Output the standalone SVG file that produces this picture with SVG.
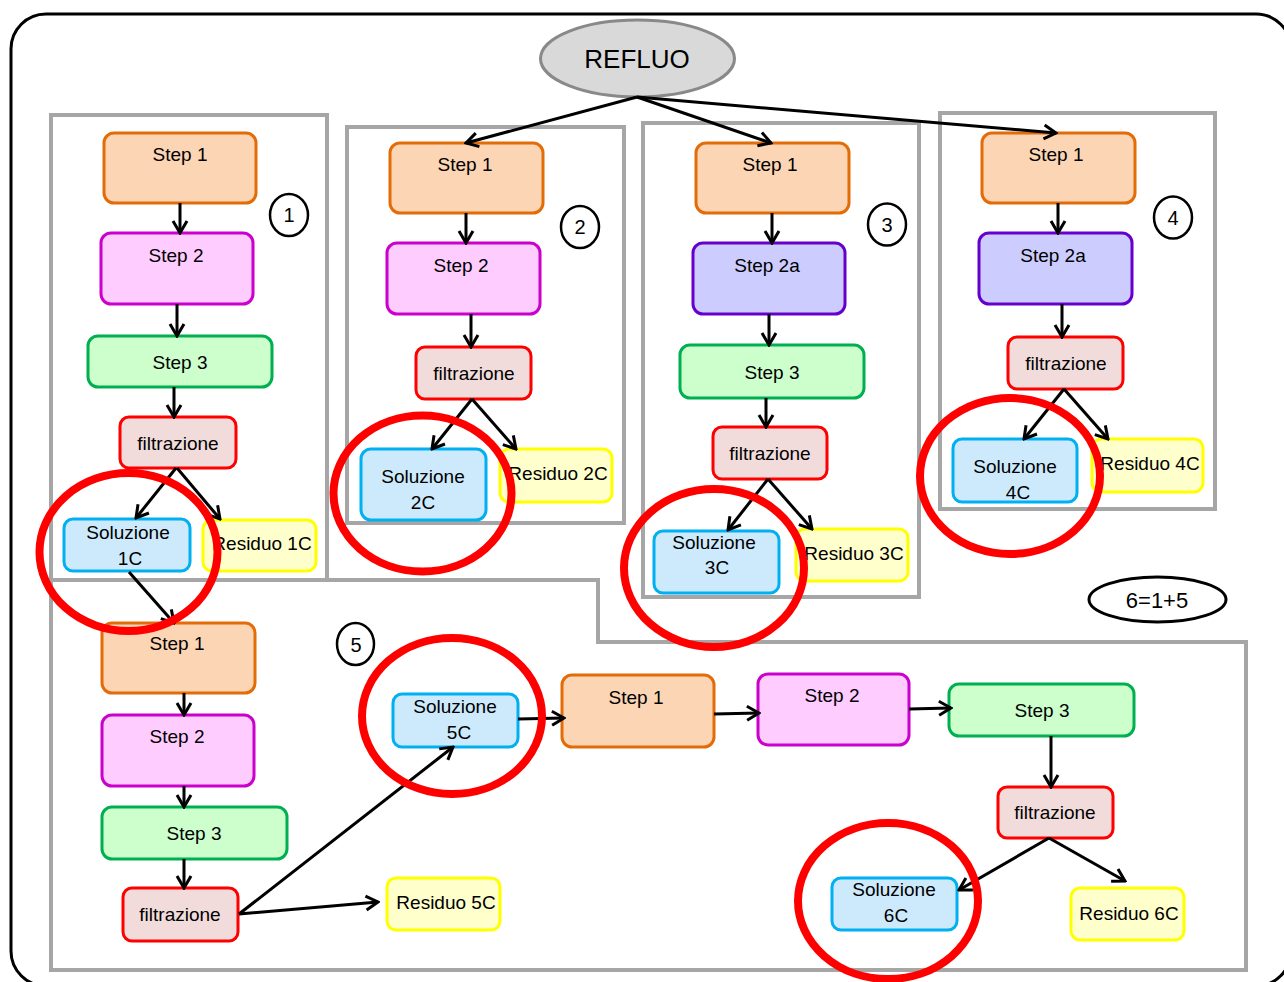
<svg xmlns="http://www.w3.org/2000/svg" width="1284" height="982" viewBox="0 0 1284 982">
<style>
text{font-family:"Liberation Sans",Arial,sans-serif;font-size:19px;fill:#000;text-anchor:middle;dominant-baseline:central}
.panel{fill:none;stroke:#a6a6a6;stroke-width:4}
.n rect{stroke-width:3}
.o rect{fill:#fcd5b4;stroke:#e36c09}
.p rect{fill:#ffccff;stroke:#cc00cc}
.v rect{fill:#ccccff;stroke:#6600cc}
.g rect{fill:#ccffcc;stroke:#00b050}
.f rect{fill:#f2dcdb;stroke:#ff0000}
.s rect{fill:#cdeafc;stroke:#00b0f0}
.r rect{fill:#ffffcc;stroke:#ffff00}
.num ellipse{fill:none;stroke:#000;stroke-width:2.5}
.num text{font-size:20px}
.ring{fill:none;stroke:#ff0000;stroke-width:8}
#connectors line{stroke:#000;stroke-width:3;marker-end:url(#ah)}
</style>
<defs>
<marker id="ah" markerUnits="userSpaceOnUse" viewBox="-14 -9 16 18" markerWidth="16" markerHeight="18" refX="0" refY="0" orient="auto">
<path d="M-12,-7 L0,0 L-12,7" fill="none" stroke="#000" stroke-width="3"/>
</marker>
</defs>
<rect x="11" y="14" width="1280" height="972" rx="35" fill="#fff" stroke="#000" stroke-width="3"/>
<g id="panels">
<rect class="panel" x="51" y="115" width="276" height="465"/>
<rect class="panel" x="347" y="127" width="277" height="396"/>
<rect class="panel" x="643" y="123" width="276" height="474"/>
<rect class="panel" x="940" y="113" width="275" height="396"/>
<path class="panel" d="M51,580 L598,580 L598,642 L1246,642 L1246,970 L51,970 Z"/>
</g>
<g id="refluo"><ellipse cx="637.5" cy="58.5" rx="97" ry="38.5" fill="#d9d9d9" stroke="#898989" stroke-width="3"/><text x="637" y="59" style="font-size:26px">REFLUO</text></g>
<!-- panel 1 -->
<g id="p1s1" class="n o"><rect x="104" y="133" width="152" height="70" rx="10"/><text x="180" y="154">Step 1</text></g>
<g id="p1s2" class="n p"><rect x="101" y="233" width="152" height="71" rx="10"/><text x="176" y="255">Step 2</text></g>
<g id="p1s3" class="n g"><rect x="88" y="336" width="184" height="51" rx="10"/><text x="180" y="362">Step 3</text></g>
<g id="p1f" class="n f"><rect x="120" y="417" width="116" height="51" rx="9"/><text x="178" y="443">filtrazione</text></g>
<g id="p1sol" class="n s"><rect x="64" y="519" width="126" height="52" rx="9"/><text x="128" y="532">Soluzione</text><text x="130" y="558">1C</text></g>
<g id="p1res" class="n r"><rect x="203" y="520" width="113" height="51" rx="9"/><text x="262" y="543">Residuo 1C</text></g>
<g id="num1" class="num"><ellipse cx="289" cy="215" rx="19" ry="21"/><text x="289" y="215">1</text></g>
<!-- panel 2 -->
<g id="p2s1" class="n o"><rect x="390" y="143" width="153" height="70" rx="10"/><text x="465" y="164">Step 1</text></g>
<g id="p2s2" class="n p"><rect x="387" y="243" width="153" height="71" rx="10"/><text x="461" y="265">Step 2</text></g>
<g id="p2f" class="n f"><rect x="416" y="347" width="115" height="52" rx="9"/><text x="474" y="373">filtrazione</text></g>
<g id="p2sol" class="n s"><rect x="361" y="449" width="125" height="71" rx="10"/><text x="423" y="476">Soluzione</text><text x="423" y="502">2C</text></g>
<g id="p2res" class="n r"><rect x="500" y="449" width="112" height="53" rx="9"/><text x="558" y="473">Residuo 2C</text></g>
<g id="num2" class="num"><ellipse cx="580" cy="227" rx="19" ry="21"/><text x="580" y="227">2</text></g>
<!-- panel 3 -->
<g id="p3s1" class="n o"><rect x="696" y="143" width="153" height="70" rx="10"/><text x="770" y="164">Step 1</text></g>
<g id="p3s2a" class="n v"><rect x="693" y="243" width="152" height="71" rx="10"/><text x="767" y="265">Step 2a</text></g>
<g id="p3s3" class="n g"><rect x="680" y="345" width="184" height="53" rx="10"/><text x="772" y="372">Step 3</text></g>
<g id="p3f" class="n f"><rect x="713" y="427" width="114" height="52" rx="9"/><text x="770" y="453">filtrazione</text></g>
<g id="p3sol" class="n s"><rect x="654" y="531" width="125" height="62" rx="9"/><text x="714" y="542">Soluzione</text><text x="717" y="567">3C</text></g>
<g id="p3res" class="n r"><rect x="796" y="529" width="112" height="52" rx="9"/><text x="854" y="553">Residuo 3C</text></g>
<g id="num3" class="num"><ellipse cx="887" cy="224.5" rx="19" ry="21"/><text x="887" y="225">3</text></g>
<!-- panel 4 -->
<g id="p4s1" class="n o"><rect x="982" y="133" width="153" height="70" rx="10"/><text x="1056" y="154">Step 1</text></g>
<g id="p4s2a" class="n v"><rect x="979" y="233" width="153" height="71" rx="10"/><text x="1053" y="255">Step 2a</text></g>
<g id="p4f" class="n f"><rect x="1008" y="337" width="115" height="52" rx="9"/><text x="1066" y="363">filtrazione</text></g>
<g id="p4sol" class="n s"><rect x="953" y="439" width="124" height="63" rx="9"/><text x="1015" y="466">Soluzione</text><text x="1018" y="492">4C</text></g>
<g id="p4res" class="n r"><rect x="1092" y="439" width="111" height="53" rx="9"/><text x="1150" y="463">Residuo 4C</text></g>
<g id="num4" class="num"><ellipse cx="1173" cy="217.5" rx="19" ry="21"/><text x="1173" y="218">4</text></g>
<g id="eq"><ellipse cx="1157.5" cy="599.5" rx="68.5" ry="22.5" fill="none" stroke="#000" stroke-width="3"/><text x="1157" y="600" style="font-size:22px">6=1+5</text></g>
<!-- panel 5 -->
<g id="p5s1" class="n o"><rect x="102" y="623" width="153" height="70" rx="10"/><text x="177" y="643">Step 1</text></g>
<g id="p5s2" class="n p"><rect x="102" y="715" width="152" height="71" rx="10"/><text x="177" y="736">Step 2</text></g>
<g id="p5s3" class="n g"><rect x="102" y="807" width="185" height="52" rx="10"/><text x="194" y="833">Step 3</text></g>
<g id="p5f" class="n f"><rect x="123" y="888" width="115" height="53" rx="9"/><text x="180" y="914">filtrazione</text></g>
<g id="p5sol" class="n s"><rect x="393" y="694" width="125" height="53" rx="9"/><text x="455" y="706">Soluzione</text><text x="459" y="732">5C</text></g>
<g id="p5res" class="n r"><rect x="387" y="878" width="113" height="52" rx="9"/><text x="446" y="902">Residuo 5C</text></g>
<g id="num5" class="num"><ellipse cx="355.5" cy="644" rx="18.5" ry="21"/><text x="356" y="645">5</text></g>
<g id="p6s1" class="n o"><rect x="562" y="675" width="152" height="72" rx="10"/><text x="636" y="697">Step 1</text></g>
<g id="p6s2" class="n p"><rect x="758" y="674" width="151" height="71" rx="10"/><text x="832" y="695">Step 2</text></g>
<g id="p6s3" class="n g"><rect x="949" y="684" width="185" height="52" rx="10"/><text x="1042" y="710">Step 3</text></g>
<g id="p6f" class="n f"><rect x="998" y="787" width="115" height="51" rx="9"/><text x="1055" y="812">filtrazione</text></g>
<g id="p6sol" class="n s"><rect x="832" y="878" width="125" height="52" rx="9"/><text x="894" y="889">Soluzione</text><text x="896" y="915">6C</text></g>
<g id="p6res" class="n r"><rect x="1071" y="888" width="113" height="52" rx="9"/><text x="1129" y="913">Residuo 6C</text></g>
<g id="connectors">
<line x1="637" y1="97" x2="466" y2="143"/>
<line x1="637" y1="97" x2="771" y2="143"/>
<line x1="637" y1="97" x2="1056" y2="133"/>
<line x1="180" y1="203" x2="180" y2="233"/>
<line x1="177" y1="304" x2="177" y2="336"/>
<line x1="174" y1="387" x2="174" y2="417"/>
<line x1="176" y1="468" x2="136" y2="518"/>
<line x1="177" y1="468" x2="220" y2="519"/>
<line x1="129" y1="572" x2="174" y2="623"/>
<line x1="466" y1="213" x2="466" y2="243"/>
<line x1="471" y1="314" x2="471" y2="347"/>
<line x1="472" y1="399" x2="432" y2="449"/>
<line x1="472" y1="399" x2="516" y2="449"/>
<line x1="772" y1="213" x2="772" y2="243"/>
<line x1="769" y1="314" x2="769" y2="345"/>
<line x1="766" y1="398" x2="766" y2="427"/>
<line x1="768" y1="479" x2="728" y2="530"/>
<line x1="768" y1="479" x2="812" y2="529"/>
<line x1="1058" y1="203" x2="1058" y2="233"/>
<line x1="1062" y1="304" x2="1062" y2="337"/>
<line x1="1064" y1="389" x2="1024" y2="439"/>
<line x1="1064" y1="389" x2="1108" y2="439"/>
<line x1="184" y1="693" x2="184" y2="715"/>
<line x1="184" y1="786" x2="184" y2="807"/>
<line x1="184" y1="859" x2="184" y2="888"/>
<line x1="239" y1="914" x2="453" y2="747"/>
<line x1="239" y1="914" x2="378" y2="902"/>
<line x1="518" y1="719" x2="564" y2="718"/>
<line x1="714" y1="714" x2="759" y2="713"/>
<line x1="909" y1="709" x2="951" y2="708"/>
<line x1="1051" y1="736" x2="1051" y2="787"/>
<line x1="1049" y1="838" x2="959" y2="890"/>
<line x1="1049" y1="838" x2="1125" y2="881"/>
</g>
<g id="rings">
<ellipse class="ring" cx="128.5" cy="552" rx="89" ry="79"/>
<ellipse class="ring" cx="422.5" cy="493.5" rx="89" ry="78"/>
<ellipse class="ring" cx="714" cy="568" rx="90" ry="79"/>
<ellipse class="ring" cx="1010" cy="476" rx="90" ry="78"/>
<ellipse class="ring" cx="452" cy="716" rx="90" ry="78"/>
<ellipse class="ring" cx="888" cy="901" rx="90" ry="78"/>
</g>
</svg>
